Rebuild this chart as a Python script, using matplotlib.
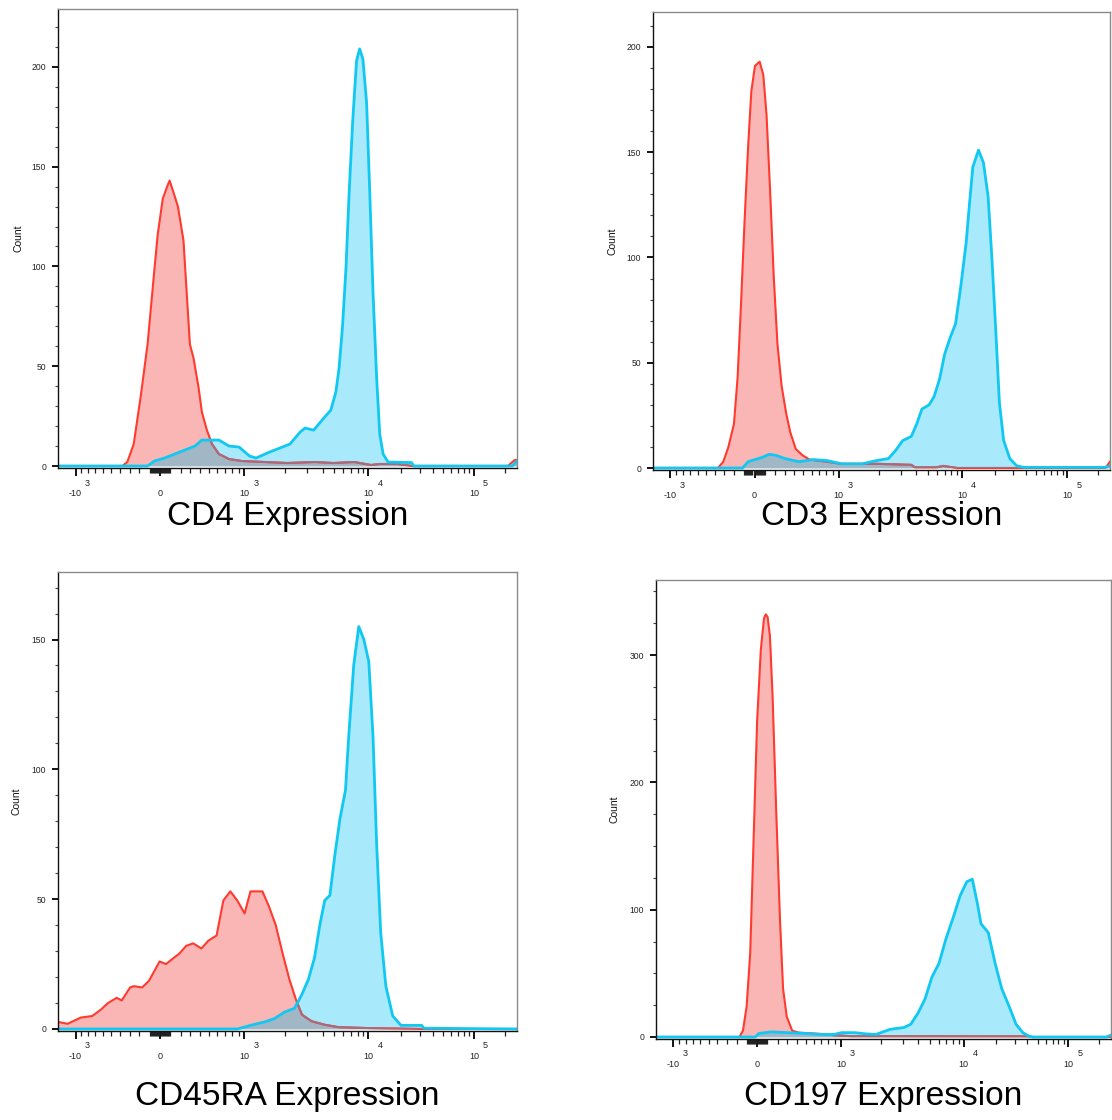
import numpy as np
import matplotlib
matplotlib.use("Agg")
import matplotlib.pyplot as plt
from matplotlib.ticker import FixedLocator, MultipleLocator, FixedFormatter, NullFormatter
from matplotlib.transforms import blended_transform_factory, offset_copy

plt.rcParams['font.family'] = ['Liberation Sans', 'DejaVu Sans']

# ---------------- data (fluorescence value, count) ----------------
cd4_neg_x = [-1348, -376, -323, -257, -187, -120, -53, -22, 27, 76, 93, 125, 174, 229, 261, 294, 332, 386, 421, 477,
             536, 621, 756, 952, 1417, 2101, 3460, 4924, 7464, 10574, 12553, 18570, 25401, 213000, 249000, 262144]
cd4_neg_y = [0, 0, 2, 11, 35, 61, 99, 116, 134, 141, 143, 138, 130, 113, 87, 61, 54, 39, 27, 18,
             11, 6, 3.5, 2.5, 2, 1.5, 2, 1.5, 2, 0.5, 1, 1, 0, 0, 3, 3]
cd4_pos_x = [-1348, -120, -53, 44, 142, 243, 347, 421, 499, 621, 756, 909, 1092, 1222, 1541, 1837, 2194, 2630, 2877, 3379,
             4089, 4683, 5168, 5510, 5901, 6320, 6739, 7245, 7830, 8343, 8921, 9638, 10264, 11014, 11893, 12688, 13633,
             15119, 25151, 26400, 236000, 262144]
cd4_pos_y = [0, 0, 2.5, 4, 6, 8, 10, 13, 13, 13, 10, 9.5, 5, 4, 7, 9, 11, 17, 19, 18,
             24, 28, 37, 49, 70, 99, 137, 173, 203, 209, 204, 182, 139, 87, 44, 16, 6,
             2, 1.7, 0, 0, 2.5]

cd3_neg_x = [-1348, -366, -309, -257, -201, -165, -134, -98, -62, -31, 4, 49, 84, 116, 151, 187, 224, 266, 313, 356,
             416, 493, 575, 815, 1051, 1914, 3626, 3890, 5901, 6799, 9011, 236000, 262144]
cd3_neg_y = [0, 0, 3, 10, 21, 43, 75, 116, 153, 179, 191, 193, 187, 168, 132, 91, 59, 39, 26, 17,
             9, 6, 4, 3, 2, 2, 1.5, 0.3, 0.3, 1, 0, 0, 3]
cd3_pos_x = [-1348, -116, -62, 4, 71, 142, 210, 299, 451, 621, 815, 1051, 1506, 1914, 2380, 2720, 3083, 3626, 4023, 4443,
             5119, 5657, 6320, 6978, 7830, 8742, 9727, 10904, 11673, 12553, 14174, 15751, 17409, 18978, 20609, 22240,
             24400, 27962, 32577, 38341, 236000, 262144]
cd3_pos_y = [0, 0, 3, 4, 5, 6.5, 6, 4.5, 3, 4, 3.5, 2, 2, 3.5, 4.5, 8.5, 13, 15, 21, 28,
             30, 34, 42.5, 54, 62, 68.5, 86, 107, 125, 143, 151, 145, 129, 98, 64, 31,
             13, 4.4, 1, 0.3, 0.3, 1]

cd45ra_neg_x = [-1348, -1147, -911, -738, -622, -537, -437, -381, -294, -257, -174, -107, -4, 58, 120, 187, 256, 328,
                416, 493, 592, 679, 776, 880, 1002, 1109, 1362, 1528, 1711, 1930, 2175, 2454, 2720, 3245, 4202, 5461,
                11014, 32577, 262144]
cd45ra_neg_y = [2.7, 2, 4.4, 5, 7.5, 10, 12, 11, 16, 16.5, 16, 18.5, 26, 25, 27, 29, 32, 33,
                31, 34, 36, 49.5, 53, 49.5, 44.5, 53, 53, 47, 40, 29, 19, 11, 5.5, 3, 1.6, 0.7,
                0.3, 0, 0]
cd45ra_pos_x = [-1348, 880, 1109, 1406, 1672, 1992, 2380, 2698, 3057, 3433, 3791, 4162, 4603, 5071, 5608, 6260, 6679,
                7391, 8197, 9100, 10085, 11014, 11893, 12958, 14444, 16746, 19997, 31346, 32900, 262144]
cd45ra_pos_y = [0, 0, 1.4, 2.7, 4, 6.5, 8, 13, 19, 27.5, 40, 49.5, 51.5, 67, 81, 92, 112.6,
                140, 155, 150, 141.5, 112.6, 71, 37, 16.5, 5, 1.4, 1.4, 0.3, 0]

cd197_neg_x = [-1348, -174, -138, -102, -67, -36, 0, 36, 67, 84, 102, 125, 151, 187, 224, 256, 294, 351, 426, 679,
               887, 1212, 41400, 45000, 262144]
cd197_neg_y = [0, 0, 5, 24, 66, 150, 248, 304, 329, 332, 330, 315, 268, 178, 94, 38, 16, 5, 3.4, 2.5,
               1.4, 0.6, 0.5, 0, 0]
cd197_pos_x = [-1348, -18, 18, 138, 313, 510, 679, 887, 1010, 1279, 1528, 1837, 2361, 3057, 3460, 3990, 4563, 5217,
               6021, 6918, 8050, 9279, 10684, 12003, 13363, 14444, 16912, 19590, 22648, 26653, 31039, 36075, 41363,
               45000, 236000, 262144]
cd197_pos_y = [0, 0, 2.8, 4, 3.4, 2.8, 2, 2, 3.4, 3.4, 2.5, 2, 6, 7.5, 10, 19, 30, 47,
               58, 77, 94, 111, 122, 124, 105, 89, 82, 58, 38, 24, 10, 3.4, 0.6,
               0, 0, 1.5]

titles = ["CD4 Expression", "CD3 Expression", "CD45RA Expression", "CD197 Expression"]
x_tick_values = [-1e3, 0, 1e3, 1e4, 1e5]
x_tick_bases = ['-10', '0', '10', '10', '10']
x_tick_exps = ['3', '', '3', '4', '5']

# ---------------- logicle (biexponential) scale ----------------
T, W, M, A = 262144.0, 1.0, 4.5, 0.0


def _params():
    w = W / (M + A)
    x2 = A / (M + A)
    x1 = x2 + w
    x0 = x2 + 2 * w
    b = (M + A) * np.log(10)
    lo, hi = 1e-8, b
    for _ in range(200):
        d = 0.5 * (lo + hi)
        f = 2 * (np.log(d) - np.log(b)) + w * (b + d)
        if f > 0:
            hi = d
        else:
            lo = d
    ca = np.exp(x0 * (b + d))
    mfa = np.exp(b * x1) - ca / np.exp(d * x1)
    a = T / ((np.exp(b) - mfa) - ca / np.exp(d))
    return a, b, ca * a, d, -mfa * a, x1


_a, _b, _c, _d, _f, _x1 = _params()


def logicle_inv(y):
    y = np.asarray(y, dtype=float)
    yy = np.where(y >= _x1, y, 2 * _x1 - y)
    v = _a * np.exp(_b * yy) - _c * np.exp(-_d * yy) + _f
    return np.where(y >= _x1, v, -v)


_gy = np.linspace(-0.4, 1.3, 60001)
_gv = logicle_inv(_gy)


def logicle_fwd(v):
    return np.interp(np.asarray(v, dtype=float), _gv, _gy)


XMIN = float(logicle_inv(0.0))
XMAX = T

minor_vals = []
for k in range(1, 6):
    for j in range(1, 10):
        for s in (1, -1):
            v = s * j * 10 ** k
            if XMIN < v < XMAX and abs(v) not in (1e3, 1e4, 1e5):
                minor_vals.append(v)

# ---------------- colours ----------------
RED_LINE = '#FF3A2E'
RED_FILL = '#FAB5B5'
BLUE_LINE = '#10C8F2'
BLUE_FILL = '#A8E9FB'
OVERLAP = '#A2B7C5'
RED_UNDER = '#A66C7E'

W_PX, H_PX = 1112, 1120
fig = plt.figure(figsize=(W_PX / 100, H_PX / 100), dpi=100)

# (left, right, top, bottom px, y-zero px, ymax, ymajor, yminor, label y px, count x px)
panels = [
    (58, 517, 9, 468, 466, 229, 50, 10, 516, 19),
    (653, 1110, 12, 470, 468, 216.6, 50, 10, 516, 613),
    (58, 517, 572, 1031, 1029, 176, 50, 10, 1097, 17),
    (656, 1111, 580, 1039, 1037, 359, 100, 25, 1097, 614),
]
series = [
    (cd4_neg_x, cd4_neg_y, cd4_pos_x, cd4_pos_y),
    (cd3_neg_x, cd3_neg_y, cd3_pos_x, cd3_pos_y),
    (cd45ra_neg_x, cd45ra_neg_y, cd45ra_pos_x, cd45ra_pos_y),
    (cd197_neg_x, cd197_neg_y, cd197_pos_x, cd197_pos_y),
]

for (l, r, t, b, y0px, ymax, ymaj, ymin_step, lab_y, cnt_x), (rx, ry, bx, by), title in zip(panels, series, titles):
    w_px, h_px = r - l, b - t
    ax = fig.add_axes([l / W_PX, 1 - b / H_PX, w_px / W_PX, h_px / H_PX])
    ax.set_xscale('function', functions=(logicle_fwd, logicle_inv))
    ax.set_xlim(XMIN, XMAX)
    ppu = (y0px - t) / ymax
    ax.set_ylim(-(b - y0px) / ppu, ymax)

    rx = np.asarray(rx, float); ry = np.asarray(ry, float)
    bx = np.asarray(bx, float); by = np.asarray(by, float)

    ax.fill_between(rx, ry, 0, color=RED_FILL, lw=0, zorder=1.0)
    pb = ax.fill_between(bx, by, 0, color=BLUE_FILL, lw=0, zorder=1.1)
    clip = pb.get_paths()[0]
    ov = ax.fill_between(rx, ry, 0, color=OVERLAP, lw=0, zorder=1.2)
    ov.set_clip_path(clip, ax.transData)
    ax.plot(rx, ry, color=RED_LINE, lw=1.5, zorder=2.0, solid_joinstyle='round')
    ru, = ax.plot(rx, ry, color=RED_UNDER, lw=1.5, zorder=2.1, solid_joinstyle='round')
    ru.set_clip_path(clip, ax.transData)
    ax.plot(bx, by, color=BLUE_LINE, lw=2.0, zorder=2.2, solid_joinstyle='round')

    # x axis ticks
    ax.xaxis.set_major_locator(FixedLocator(x_tick_values))
    ax.xaxis.set_major_formatter(FixedFormatter(x_tick_bases))
    ax.xaxis.set_minor_locator(FixedLocator(minor_vals))
    ax.xaxis.set_minor_formatter(NullFormatter())
    ax.tick_params(axis='x', which='major', direction='out', length=6, width=1.3, color='black',
                   labelsize=6.5, pad=9, labelcolor='#222222')
    ax.tick_params(axis='x', which='minor', direction='out', length=3.5, width=0.9, color='#222222')

    # superscript exponents of the x tick labels
    blend = blended_transform_factory(ax.transData, ax.transAxes)
    for v, base, e in zip(x_tick_values, x_tick_bases, x_tick_exps):
        if not e:
            continue
        dx = 9 if base.startswith('-') else 9
        tr = offset_copy(blend, fig=fig, x=dx, y=0, units='dots')
        ax.text(v, -15 / h_px, e, transform=tr, fontsize=6.5, color='#222222',
                ha='left', va='center', clip_on=False)

    # y axis ticks
    ax.yaxis.set_major_locator(MultipleLocator(ymaj))
    ax.yaxis.set_minor_locator(MultipleLocator(ymin_step))
    ax.tick_params(axis='y', which='major', direction='out', length=4.5, width=1.3, color='black',
                   labelsize=6.2, pad=4, labelcolor='#222222')
    ax.tick_params(axis='y', which='minor', direction='out', length=2.5, width=0.8, color='#444444')

    for side in ('top', 'right'):
        ax.spines[side].set_color('#8a8a8a')
        ax.spines[side].set_linewidth(1.0)
    for side in ('left', 'bottom'):
        ax.spines[side].set_color('#111111')
        ax.spines[side].set_linewidth(1.0)

    ax.set_xlabel(title, fontsize=24, va='center', color='black')
    ax.xaxis.set_label_coords(0.5, -(lab_y - b) / h_px)
    ax.set_ylabel('Count', fontsize=7.5, va='center', color='#111111')
    ax.yaxis.set_label_coords(-(l - cnt_x) / w_px, 0.5)

fig.savefig('out.png', dpi=100)
